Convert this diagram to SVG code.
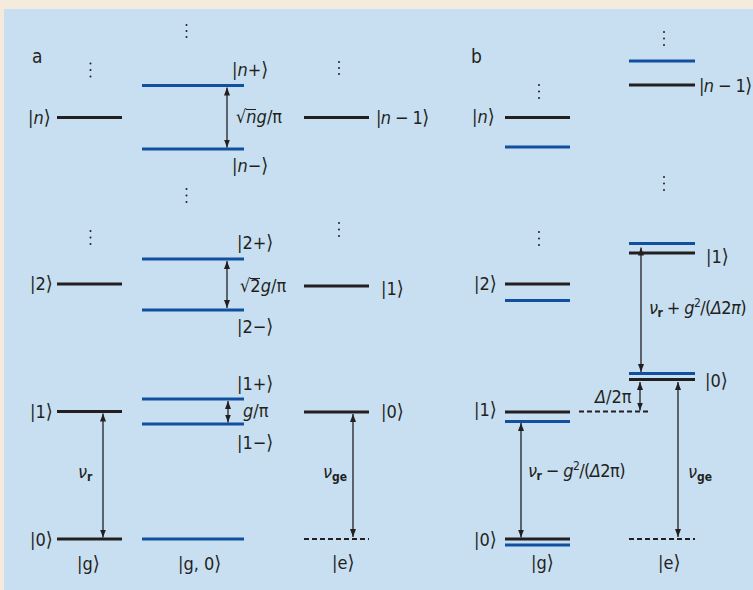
<svg xmlns="http://www.w3.org/2000/svg" width="753" height="590" viewBox="0 0 753 590">
<style>
text{font-family:"Liberation Sans Narrow","DejaVu Sans Condensed","Liberation Sans",sans-serif;font-size:18px;fill:#231f20}
.i{font-style:italic}
.b{font-size:20px}
.t{letter-spacing:-0.6px}
.sub{font-size:12px;font-weight:bold}
.sup{font-size:12px}
.lab{font-size:19px}
.k{stroke:#231f20;stroke-width:3;fill:none}
.bl{stroke:#1150a0;stroke-width:3;fill:none}
.d{stroke:#231f20;stroke-width:2;stroke-dasharray:5 3;fill:none}
.arr{stroke:#231f20;stroke-width:1.3;fill:none;marker-start:url(#ah);marker-end:url(#ah)}
.dot{fill:#231f20}
</style>
<defs>
<marker id="ah" viewBox="0 0 8 6" refX="8" refY="3" markerWidth="8" markerHeight="6" markerUnits="userSpaceOnUse" orient="auto-start-reverse">
<path d="M0,0 L8,3 L0,6 z" fill="#231f20"/>
</marker>
</defs>
<rect x="0" y="0" width="753" height="590" fill="#f5ebdc"/>
<rect x="4" y="9" width="749" height="581" fill="#c8dff2"/>

<g id="dots">
<g class="dot">
<circle cx="186.5" cy="25" r="1"/><circle cx="186.5" cy="31" r="1"/><circle cx="186.5" cy="37" r="1"/>
<circle cx="90.5" cy="63.5" r="1"/><circle cx="90.5" cy="70" r="1"/><circle cx="90.5" cy="76.5" r="1"/>
<circle cx="339" cy="62" r="1"/><circle cx="339" cy="68" r="1"/><circle cx="339" cy="74" r="1"/>
<circle cx="186.5" cy="189" r="1"/><circle cx="186.5" cy="195.5" r="1"/><circle cx="186.5" cy="202" r="1"/>
<circle cx="90.5" cy="231" r="1"/><circle cx="90.5" cy="237.5" r="1"/><circle cx="90.5" cy="244" r="1"/>
<circle cx="339" cy="223" r="1"/><circle cx="339" cy="229.5" r="1"/><circle cx="339" cy="236" r="1"/>
<circle cx="539" cy="85" r="1"/><circle cx="539" cy="91.5" r="1"/><circle cx="539" cy="98" r="1"/>
<circle cx="664" cy="32" r="1"/><circle cx="664" cy="38.5" r="1"/><circle cx="664" cy="45" r="1"/>
<circle cx="664" cy="177" r="1"/><circle cx="664" cy="183.5" r="1"/><circle cx="664" cy="190" r="1"/>
<circle cx="539" cy="232" r="1"/><circle cx="539" cy="238.5" r="1"/><circle cx="539" cy="245" r="1"/>
</g>
</g>

<g id="panel-a">
<text class="lab" x="32" y="63">a</text>
<g id="a-n">
<line class="k" x1="57" y1="117.5" x2="122" y2="117.5"/>
<text x="28" y="124">|<tspan class="i">n</tspan><tspan class="b">⟩</tspan></text>
</g>
<g id="a-npm">
<line class="bl" x1="142" y1="85.5" x2="244" y2="85.5"/>
<line class="bl" x1="142" y1="149" x2="244" y2="149"/>
<text x="232" y="76">|<tspan class="i">n</tspan>+<tspan class="b">⟩</tspan></text>
<text x="232" y="172">|<tspan class="i">n</tspan>−<tspan class="b">⟩</tspan></text>
<text x="236" y="123">√<tspan class="i">n</tspan><tspan class="i">g</tspan>/π</text>
<line x1="246" y1="109.5" x2="256" y2="109.5" stroke="#231f20" stroke-width="1"/>
</g>
<g id="a-nm1">
<line class="k" x1="304" y1="117.5" x2="369" y2="117.5"/>
<text class="t" x="376" y="124">|<tspan class="i">n</tspan> − 1<tspan class="b">⟩</tspan></text>
</g>
<g id="a-2">
<line class="k" x1="57" y1="284" x2="122" y2="284"/>
<text x="30" y="290">|2<tspan class="b">⟩</tspan></text>
</g>
<g id="a-2pm">
<line class="bl" x1="142" y1="259" x2="244" y2="259"/>
<line class="bl" x1="142" y1="310" x2="244" y2="310"/>
<text x="237" y="249">|2+<tspan class="b">⟩</tspan></text>
<text x="237" y="333">|2−<tspan class="b">⟩</tspan></text>
<text x="240" y="292">√2<tspan class="i">g</tspan>/π</text>
<line x1="250" y1="278.5" x2="260" y2="278.5" stroke="#231f20" stroke-width="1"/>
</g>
<g id="a-1r">
<line class="k" x1="304" y1="286" x2="369" y2="286"/>
<text x="381" y="295">|1<tspan class="b">⟩</tspan></text>
</g>
<g id="a-1">
<line class="k" x1="57" y1="411.5" x2="122" y2="411.5"/>
<text x="30" y="418">|1<tspan class="b">⟩</tspan></text>
</g>
<g id="a-1pm">
<line class="bl" x1="142" y1="399" x2="244" y2="399"/>
<line class="bl" x1="142" y1="424" x2="244" y2="424"/>
<text x="237" y="390">|1+<tspan class="b">⟩</tspan></text>
<text x="237" y="449">|1−<tspan class="b">⟩</tspan></text>
<text x="243" y="417"><tspan class="i">g</tspan>/π</text>
</g>
<g id="a-0r">
<line class="k" x1="304" y1="412" x2="369" y2="412"/>
<text x="381" y="418">|0<tspan class="b">⟩</tspan></text>
</g>
<g id="a-0">
<line class="k" x1="57" y1="539" x2="122" y2="539"/>
<text x="30" y="546">|0<tspan class="b">⟩</tspan></text>
<text x="77" y="570">|g<tspan class="b">⟩</tspan></text>
</g>
<g id="a-g0">
<line class="bl" x1="142" y1="539" x2="244" y2="539"/>
<text x="178" y="570">|g, 0<tspan class="b">⟩</tspan></text>
</g>
<g id="a-e">
<line class="d" x1="304" y1="539" x2="369" y2="539"/>
<text x="332" y="569">|e<tspan class="b">⟩</tspan></text>
</g>
<text x="78" y="478"><tspan class="i">ν</tspan><tspan class="sub" dy="3">r</tspan></text>
<text x="323" y="478"><tspan class="i">ν</tspan><tspan class="sub" dy="3">ge</tspan></text>
</g>

<g id="panel-b">
<text class="lab" x="471" y="63">b</text>
<g id="b-n">
<line class="k" x1="505" y1="117.5" x2="570" y2="117.5"/>
<line class="bl" x1="505" y1="147" x2="570" y2="147"/>
<text x="472" y="123">|<tspan class="i">n</tspan><tspan class="b">⟩</tspan></text>
</g>
<g id="b-nm1">
<line class="bl" x1="629" y1="61" x2="695" y2="61"/>
<line class="k" x1="629" y1="85" x2="695" y2="85"/>
<text class="t" x="699" y="92">|<tspan class="i">n</tspan> − 1<tspan class="b">⟩</tspan></text>
</g>
<g id="b-2">
<line class="k" x1="505" y1="284" x2="570" y2="284"/>
<line class="bl" x1="505" y1="300.5" x2="570" y2="300.5"/>
<text x="474" y="290">|2<tspan class="b">⟩</tspan></text>
</g>
<g id="b-1r">
<line class="bl" x1="629" y1="243.5" x2="695" y2="243.5"/>
<line class="k" x1="629" y1="253" x2="695" y2="253"/>
<text x="706" y="263">|1<tspan class="b">⟩</tspan></text>
</g>
<g id="b-0r">
<line class="bl" x1="629" y1="373.5" x2="695" y2="373.5"/>
<line class="k" x1="629" y1="379.5" x2="695" y2="379.5"/>
<text x="705" y="387">|0<tspan class="b">⟩</tspan></text>
</g>
<g id="b-1">
<line class="k" x1="505" y1="412" x2="570" y2="412"/>
<line class="bl" x1="505" y1="421.5" x2="570" y2="421.5"/>
<text x="474" y="416">|1<tspan class="b">⟩</tspan></text>
</g>
<g id="b-0">
<line class="k" x1="505" y1="539" x2="570" y2="539"/>
<line class="bl" x1="505" y1="545" x2="570" y2="545"/>
<text x="474" y="546">|0<tspan class="b">⟩</tspan></text>
<text x="531" y="569">|g<tspan class="b">⟩</tspan></text>
</g>
<g id="b-e">
<line class="d" x1="629" y1="539" x2="695" y2="539"/>
<text x="658" y="569">|e<tspan class="b">⟩</tspan></text>
</g>
<g id="b-ref">
<line class="d" x1="579" y1="411.5" x2="651" y2="411.5"/>
</g>
<text class="t" x="649" y="314"><tspan class="i">ν</tspan><tspan class="sub" dy="3">r</tspan><tspan dy="-3"> + </tspan><tspan class="i">g</tspan><tspan class="sup" dy="-7">2</tspan><tspan dy="7">/(</tspan><tspan class="i">Δ</tspan>2<tspan class="i">π</tspan>)</text>
<text class="t" x="528" y="477"><tspan class="i">ν</tspan><tspan class="sub" dy="3">r</tspan><tspan dy="-3"> − </tspan><tspan class="i">g</tspan><tspan class="sup" dy="-7">2</tspan><tspan dy="7">/(</tspan><tspan class="i">Δ</tspan>2π)</text>
<text x="595" y="403"><tspan class="i">Δ</tspan>/2π</text>
<text x="688" y="478"><tspan class="i">ν</tspan><tspan class="sub" dy="3">ge</tspan></text>
</g>

<g id="connectors">
<line class="arr" x1="227" y1="87.5" x2="227" y2="147.5"/>
<line class="arr" x1="227" y1="261" x2="227" y2="308"/>
<line class="arr" x1="228" y1="401" x2="228" y2="422.5"/>
<line class="arr" x1="103" y1="413.5" x2="103" y2="537.5"/>
<line class="arr" x1="353" y1="414" x2="353" y2="537"/>
<line class="arr" x1="641" y1="247.5" x2="641" y2="372"/>
<line class="arr" x1="640" y1="382" x2="640" y2="410.5"/>
<line class="arr" x1="678" y1="382" x2="678" y2="537"/>
<line class="arr" x1="521" y1="423" x2="521" y2="537.5"/>
</g>
</svg>
